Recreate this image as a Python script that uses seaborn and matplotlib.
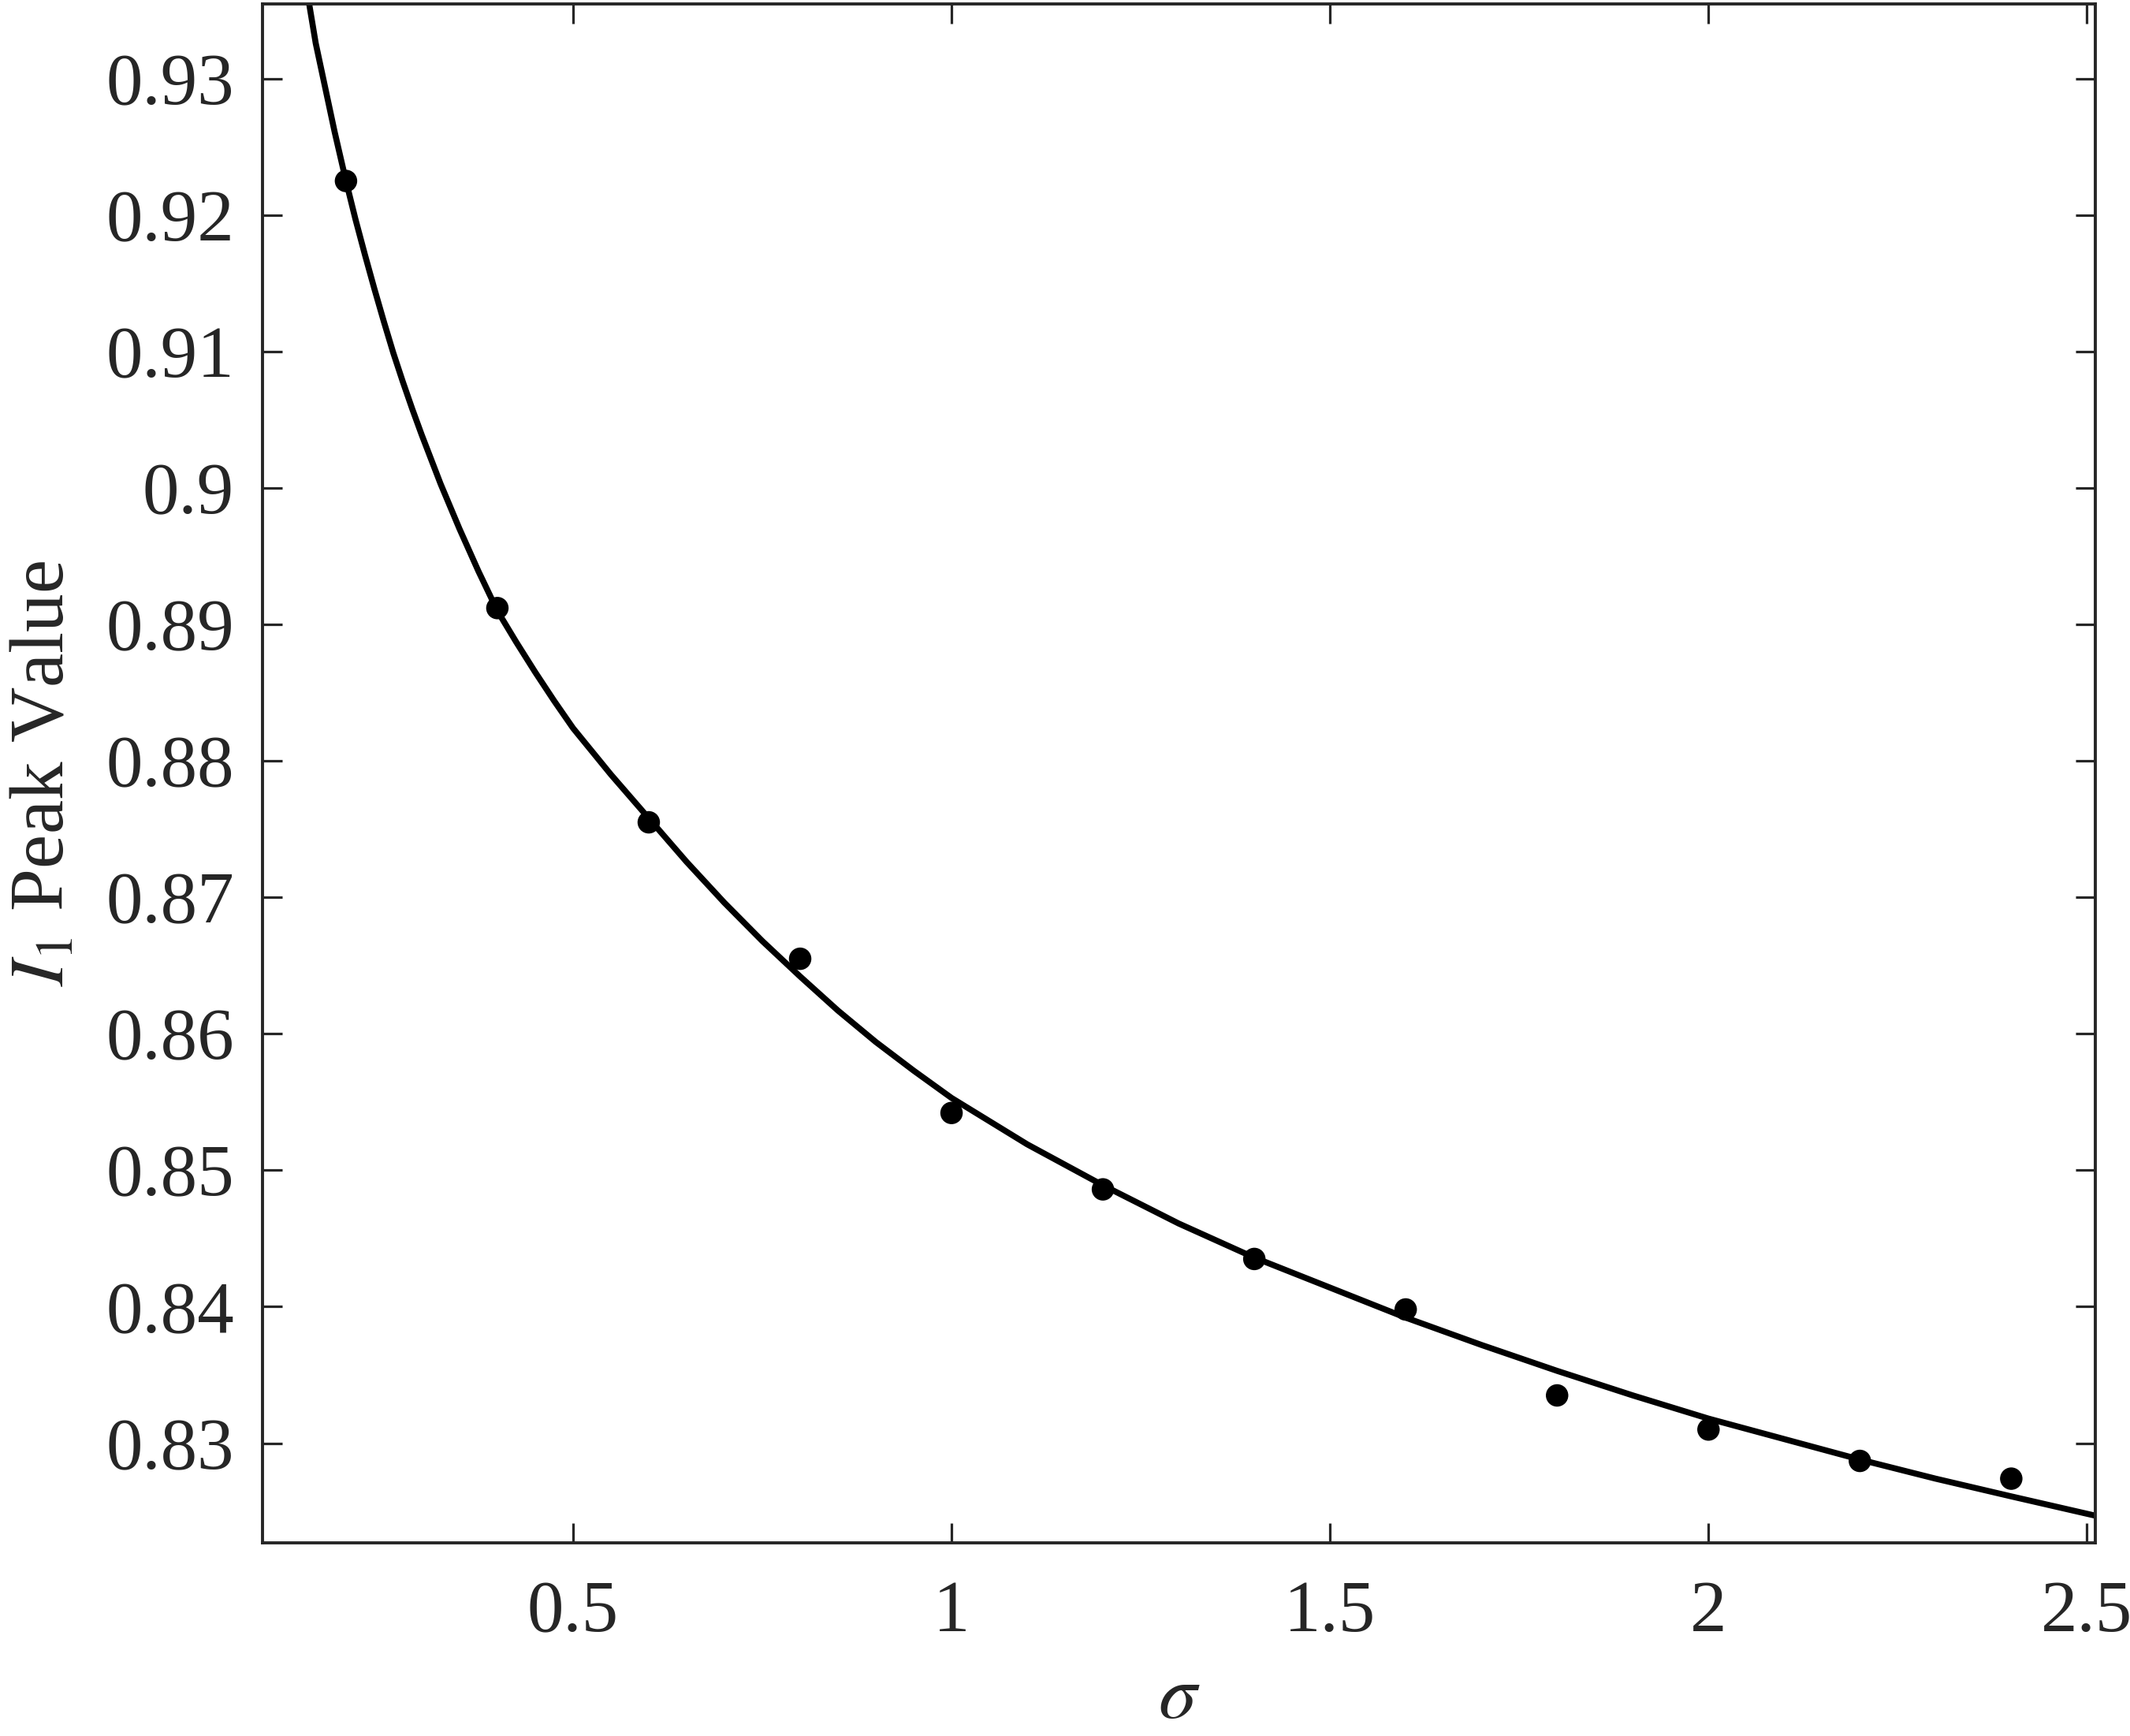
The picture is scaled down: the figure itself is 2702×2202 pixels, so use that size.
import matplotlib
matplotlib.use("Agg")
import matplotlib.pyplot as plt
import seaborn as sns
from matplotlib.ticker import FormatStrFormatter

# measured peak values
sigma = [0.2, 0.4, 0.6, 0.8, 1.0, 1.2, 1.4, 1.6, 1.8, 2.0, 2.2, 2.4]
peak = [0.9225, 0.8912, 0.8755, 0.8655, 0.8542, 0.8486, 0.8435,
        0.8398, 0.8335, 0.8310, 0.8287, 0.8274]

# fitted curve
fit_sigma = [0.151, 0.16, 0.17, 0.185, 0.2, 0.2125, 0.225, 0.2375, 0.25,
             0.2625, 0.275, 0.2875, 0.3, 0.325, 0.35, 0.375, 0.4, 0.425,
             0.45, 0.475, 0.5, 0.55, 0.6, 0.65, 0.7, 0.75, 0.8, 0.85, 0.9,
             0.95, 1.0, 1.1, 1.2, 1.3, 1.4, 1.5, 1.6, 1.7, 1.8, 1.9, 2.0,
             2.1, 2.2, 2.3, 2.4, 2.51]
fit_peak = [0.9356, 0.9326, 0.9300, 0.9261, 0.9225, 0.9197, 0.9171, 0.9146,
            0.9122, 0.9099, 0.9078, 0.9058, 0.9039, 0.9003, 0.8970, 0.8939,
            0.8910, 0.8887, 0.8865, 0.8844, 0.8824, 0.8790, 0.8758, 0.8726,
            0.8696, 0.8668, 0.8642, 0.8617, 0.8594, 0.8573, 0.8553, 0.8519,
            0.8489, 0.8461, 0.8436, 0.8414, 0.8392, 0.8372, 0.8353, 0.8335,
            0.8318, 0.8303, 0.8288, 0.8274, 0.8261, 0.8247]

xticks = [0.5, 1, 1.5, 2, 2.5]
yticks = [0.83, 0.84, 0.85, 0.86, 0.87, 0.88, 0.89, 0.9, 0.91, 0.92, 0.93]

sns.set_theme(style="ticks")
plt.rcParams['font.family'] = ['Liberation Serif', 'DejaVu Serif']
plt.rcParams['mathtext.fontset'] = 'stix'

ink = '#262626'
fig = plt.figure(figsize=(27.02, 22.02), dpi=100)
ax = fig.add_axes([0.1232, 0.1113, 0.9837 - 0.1232, 0.9977 - 0.1113])

sns.lineplot(x=fit_sigma, y=fit_peak, ax=ax, color='black', lw=5.5,
             sort=False, estimator=None)
sns.scatterplot(x=sigma, y=peak, ax=ax, color='black', s=420,
                edgecolor='none', zorder=3)

ax.set_xlim(0.0896, 2.511)
ax.set_ylim(0.8227, 0.93547)
ax.set_xticks(xticks)
ax.set_yticks(yticks)
ax.xaxis.set_major_formatter(FormatStrFormatter('%g'))
ax.yaxis.set_major_formatter(FormatStrFormatter('%g'))

ax.tick_params(direction='in', top=True, right=True, length=18, width=2.3,
               color=ink, labelcolor=ink, labelsize=67)
ax.tick_params(axis='x', pad=34)
ax.tick_params(axis='y', pad=26)
for sp in ax.spines.values():
    sp.set_visible(True)
    sp.set_linewidth(2.8)
    sp.set_color(ink)

ax.set_xlabel(r'$\sigma$', fontsize=70, color=ink, labelpad=16)
ax.set_ylabel(r'$I_1$ Peak Value', fontsize=70, color=ink, labelpad=24)

fig.savefig('out.png', dpi=100)
